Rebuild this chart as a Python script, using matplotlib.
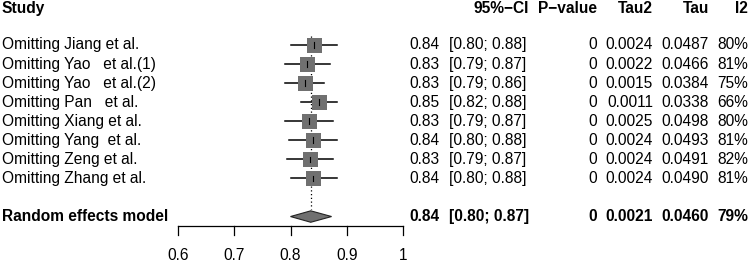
import matplotlib
matplotlib.use("Agg")
import matplotlib.pyplot as plt
from matplotlib.patches import Polygon
import matplotlib.transforms as mtransforms

plt.rcParams['font.family'] = ['Liberation Sans', 'DejaVu Sans']

studies = ["Omitting Jiang et al.", "Omitting Yao   et al.(1)", "Omitting Yao   et al.(2)",
           "Omitting Pan   et al.", "Omitting Xiang et al.", "Omitting Yang  et al.",
           "Omitting Zeng et al.", "Omitting Zhang et al."]
est = [0.842, 0.830, 0.826, 0.850, 0.832, 0.840, 0.834, 0.840]
lo = [0.800, 0.791, 0.791, 0.818, 0.790, 0.798, 0.793, 0.800]
hi = [0.883, 0.870, 0.860, 0.882, 0.875, 0.882, 0.875, 0.882]
est_txt = ["0.84", "0.83", "0.83", "0.85", "0.83", "0.84", "0.83", "0.84"]
ci_txt = ["[0.80; 0.88]", "[0.79; 0.87]", "[0.79; 0.86]", "[0.82; 0.88]",
          "[0.79; 0.87]", "[0.80; 0.88]", "[0.79; 0.87]", "[0.80; 0.88]"]
pval = ["0"] * 8
tau2 = ["0.0024", "0.0022", "0.0015", "0.0011", "0.0025", "0.0024", "0.0024", "0.0024"]
tau = ["0.0487", "0.0466", "0.0384", "0.0338", "0.0498", "0.0493", "0.0491", "0.0490"]
i2 = ["80%", "81%", "75%", "66%", "80%", "81%", "82%", "81%"]

re_est, re_lo, re_hi = 0.836, 0.800, 0.873
re_txt = ["0.84", "[0.80; 0.87]", "0", "0.0021", "0.0460", "79%"]
headers = ["Study", "95%\u2212CI", "P\u2212value", "Tau2", "Tau", "I2"]
ticks = [0.6, 0.7, 0.8, 0.9, 1.0]
tick_labels = ["0.6", "0.7", "0.8", "0.9", "1"]

W, H = 750, 262
fig = plt.figure(figsize=(W / 100, H / 100), dpi=100)
ax = fig.add_axes([0, 0, 1, 1])
ax.axis('off')

# x mapping: 0.6 -> 178px, 1.0 -> 403px
ppu = (403 - 178) / 0.4
x0 = 0.6 - 178 / ppu
ax.set_xlim(x0, x0 + W / ppu)
# y mapping: row 0 -> 45px, row spacing 19.06 px
rs = 19.06
ax.set_ylim((H - 45) / rs, -45 / rs)

fs = 11.2
sq = '#707070'
trans = mtransforms.blended_transform_factory(fig.transFigure, ax.transData)

# dotted line at pooled estimate
ax.plot([re_est, re_est], [-0.45, 8.6], ls=(0, (1, 2)), color='black', lw=0.9, zorder=1)

for i in range(len(studies)):
    ax.plot([lo[i], hi[i]], [i, i], color='black', lw=1.1, zorder=2)
    ax.plot([est[i]], [i], marker='s', ms=10.8, mfc=sq, mec=sq, mew=0, zorder=3)
    ax.plot([est[i], est[i]], [i - 0.15, i + 0.15], color='black', lw=0.8, zorder=4)
    ax.text(2 / W, i, studies[i], transform=trans, ha='left', va='center', fontsize=fs)
    ax.text(440 / W, i, est_txt[i], transform=trans, ha='right', va='center', fontsize=fs)
    ax.text(449 / W, i, ci_txt[i], transform=trans, ha='left', va='center', fontsize=fs)
    ax.text(597 / W, i, pval[i], transform=trans, ha='right', va='center', fontsize=fs)
    ax.text(653 / W, i, tau2[i], transform=trans, ha='right', va='center', fontsize=fs)
    ax.text(709 / W, i, tau[i], transform=trans, ha='right', va='center', fontsize=fs)
    ax.text(748 / W, i, i2[i], transform=trans, ha='right', va='center', fontsize=fs)

# pooled diamond
yre = 9.0
dh = 0.3
ax.add_patch(Polygon([[re_lo, yre], [re_est, yre - dh], [re_hi, yre], [re_est, yre + dh]],
                     closed=True, fc=sq, ec='#222222', lw=0.8, zorder=3))
ax.text(2 / W, yre, "Random effects model", transform=trans, ha='left', va='center',
        fontsize=fs, fontweight='bold')
ax.text(440 / W, yre, re_txt[0], transform=trans, ha='right', va='center', fontsize=fs, fontweight='bold')
ax.text(449 / W, yre, re_txt[1], transform=trans, ha='left', va='center', fontsize=fs, fontweight='bold')
for xp, t in zip([597, 653, 709, 748], re_txt[2:]):
    ax.text(xp / W, yre, t, transform=trans, ha='right', va='center', fontsize=fs, fontweight='bold')

# headers
yh = -1.9
ax.text(2 / W, yh, headers[0], transform=trans, ha='left', va='center', fontsize=fs, fontweight='bold')
for xp, t in zip([529, 597, 653, 709, 748], headers[1:]):
    ax.text(xp / W, yh, t, transform=trans, ha='right', va='center', fontsize=fs, fontweight='bold')

# x axis
yax = (226 - 45) / rs
ax.plot([ticks[0], ticks[-1]], [yax, yax], color='black', lw=0.9)
for t, lab in zip(ticks, tick_labels):
    ax.plot([t, t], [yax, yax + 9 / rs], color='black', lw=0.9)
    ax.text(t, (256 - 45) / rs, lab, ha='center', va='center', fontsize=fs)

fig.savefig("out.png", dpi=100)
